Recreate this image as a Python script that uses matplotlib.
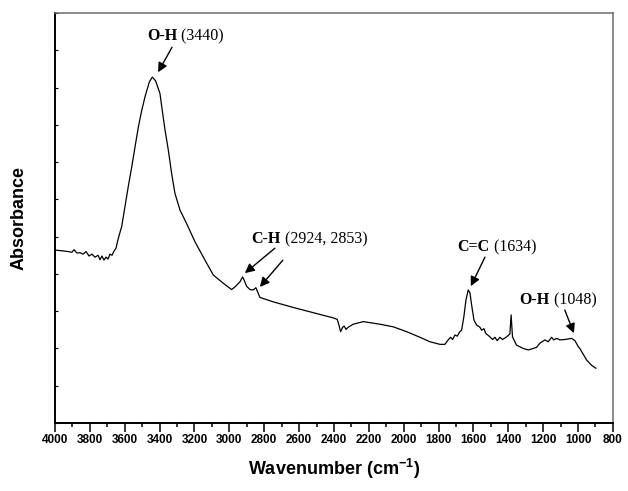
"""
Espectro FTIR con bandas anotadas.
Salida: out.png
"""

import numpy as np
import matplotlib.pyplot as plt
from matplotlib.ticker import MultipleLocator

# -- Datos (numero de onda en cm-1, absorbancia en u.a.) --
WAVENUMBER = [
    4000, 3960, 3925, 3903, 3891, 3874, 3857, 3839, 3822, 3805, 3788, 3771,
    3753, 3742, 3731, 3719, 3708, 3696, 3685, 3673, 3662, 3650, 3640, 3624,
    3618, 3599, 3580, 3560, 3541, 3522, 3503, 3484, 3459, 3442, 3423, 3398, 3385,
    3369, 3350, 3331, 3312, 3283, 3245, 3197, 3140, 3092, 3035, 2987, 2968,
    2939, 2924, 2915, 2901, 2882, 2863, 2848, 2838, 2825, 2748, 2634, 2519,
    2404, 2381, 2370, 2362, 2350, 2341, 2331, 2318, 2290, 2232, 2136, 2060,
    1983, 1907, 1850, 1792, 1764, 1745, 1731, 1720, 1706, 1693, 1678, 1668,
    1655, 1643, 1630, 1620, 1609, 1597, 1582, 1563, 1553, 1540, 1529, 1510,
    1490, 1477, 1464, 1448, 1433, 1410, 1391, 1384, 1376, 1353, 1315, 1286,
    1257, 1238, 1219, 1190, 1171, 1152, 1139, 1123, 1104, 1076, 1037, 1018,
    999, 990, 951, 923, 898,
]
ABSORBANCE = [
    0.464, 0.462, 0.460, 0.458, 0.465, 0.456, 0.457, 0.453, 0.460, 0.448, 0.453, 0.445,
    0.450, 0.438, 0.448, 0.437, 0.445, 0.440, 0.453, 0.450, 0.461, 0.469, 0.490, 0.517,
    0.526, 0.580, 0.634, 0.687, 0.741, 0.794, 0.838, 0.875, 0.915, 0.928, 0.918, 0.884, 0.839,
    0.786, 0.732, 0.669, 0.616, 0.571, 0.535, 0.486, 0.437, 0.397, 0.375, 0.358, 0.365,
    0.379, 0.392, 0.383, 0.367, 0.358, 0.357, 0.363, 0.352, 0.337, 0.325, 0.310, 0.296,
    0.282, 0.278, 0.260, 0.245, 0.257, 0.260, 0.251, 0.257, 0.265, 0.272, 0.265, 0.258,
    0.245, 0.230, 0.218, 0.211, 0.211, 0.223, 0.230, 0.224, 0.236, 0.233, 0.245, 0.249,
    0.285, 0.330, 0.357, 0.349, 0.312, 0.276, 0.263, 0.257, 0.249, 0.253, 0.240, 0.233,
    0.224, 0.230, 0.221, 0.230, 0.224, 0.231, 0.239, 0.290, 0.231, 0.209, 0.200, 0.196,
    0.200, 0.203, 0.214, 0.223, 0.218, 0.230, 0.223, 0.227, 0.223, 0.224, 0.227, 0.221,
    0.205, 0.200, 0.169, 0.155, 0.147,
]

# Anotaciones: parte en negrita, parte normal, posicion del texto, flechas (cola, punta)
ANOT_BOLD = ["O-H", "C-H", "C=C", "O-H"]
ANOT_NORMAL = [" (3440)", " (2924, 2853)", " (1634)", " (1048)"]
ANOT_POS = [(3300, 1.027), (2704, 0.483), (1506, 0.461), (1162, 0.318)]
ANOT_ARROWS = [
    [((3329, 1.008), (3409, 0.941))],
    [((2739, 0.469), (2911, 0.402)), ((2693, 0.437), (2825, 0.365))],
    [((1534, 0.445), (1615, 0.367))],
    [((1076, 0.303), (1024, 0.241))],
]

plt.rcParams.update({
    "font.family": "Liberation Sans",
    "mathtext.fontset": "custom",
    "mathtext.rm": "Liberation Sans",
    "mathtext.bf": "Liberation Sans:bold",
})

fig = plt.figure(figsize=(6.28, 4.91), dpi=100)
ax = fig.add_axes([0.0876, 0.1385, 0.8884, 0.835])

ax.plot(WAVENUMBER, ABSORBANCE, color="black", lw=0.9)

ax.set_xlim(4000, 800)
ax.set_ylim(0, 1.1)
ax.xaxis.set_major_locator(MultipleLocator(200))
ax.xaxis.set_minor_locator(MultipleLocator(100))
ax.yaxis.set_major_locator(MultipleLocator(0.1))
ax.set_yticklabels([])
ax.tick_params(axis="x", which="major", direction="out", length=6.5, width=1.1,
               pad=1.5, labelsize=8.5)
ax.tick_params(axis="x", which="minor", direction="out", length=3.2, width=1.1)
ax.tick_params(axis="y", which="major", direction="in", length=2.5, width=0.8)
for lab in ax.get_xticklabels():
    lab.set_fontweight("bold")

for side in ["left", "bottom"]:
    ax.spines[side].set_linewidth(1.4)
    ax.spines[side].set_color("black")
for side in ["top", "right"]:
    ax.spines[side].set_linewidth(1.1)
    ax.spines[side].set_color("#6e6e6e")

ax.set_xlabel("Wavenumber (cm$^{\\mathbf{-1}}$)", fontsize=13, fontweight="bold",
              labelpad=8)
ax.set_ylabel("Absorbance", fontsize=13, fontweight="bold", labelpad=16)

serif = "Liberation Serif"
for bold, normal, (x, y), arrows in zip(ANOT_BOLD, ANOT_NORMAL, ANOT_POS, ANOT_ARROWS):
    ax.text(x, y, bold, ha="right", va="baseline", fontsize=11.5,
            fontweight="bold", family=serif)
    ax.text(x, y, normal, ha="left", va="baseline", fontsize=11.5, family=serif)
    for tail, head in arrows:
        ax.annotate("", xy=head, xytext=tail,
                    arrowprops=dict(arrowstyle="-|>", color="black", lw=1.0,
                                    mutation_scale=14, shrinkA=0, shrinkB=0))

fig.savefig("out.png", dpi=100)
